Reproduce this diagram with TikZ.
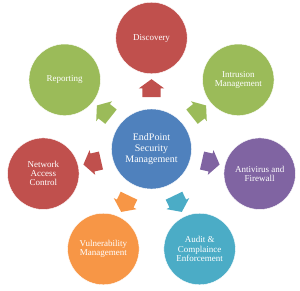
\documentclass[tikz,border=0pt]{standalone}
\usepackage{fontspec}
\setmainfont{Liberation Serif}
\usetikzlibrary{shapes.arrows}
\definecolor{hubblue}{HTML}{4F81BD}
\definecolor{itemred}{HTML}{C0504D}
\definecolor{itemgreen}{HTML}{9BBB59}
\definecolor{itempurple}{HTML}{8064A2}
\definecolor{itemcyan}{HTML}{4BACC6}
\definecolor{itemorange}{HTML}{F79646}
\begin{document}
\begin{tikzpicture}[x=1pt,y=1pt,
  hub/.style={circle,fill=hubblue,draw=white,minimum size=80pt,inner sep=1pt,text=white,align=center,font=\fontsize{10}{11.3}\selectfont},
  item/.style={circle,draw=white,minimum size=71.5pt,inner sep=1pt,text=white,align=center,font=\fontsize{9}{9.2}\selectfont},
  blockarrow/.style={single arrow,inner xsep=0pt,inner ysep=9pt,single arrow head extend=3.5pt,single arrow tip angle=108,minimum height=18pt}]
\useasboundingbox (-151.5,-141) rectangle (148.5,149);
\node[hub] (hub) at (0,0) {EndPoint\\Security\\Management};
% outer ring, clockwise from the top
\foreach \ang/\name/\col/\txt in {90/disc/itemred/Discovery,
    38.57/intr/itemgreen/Intrusion\\Management,
    -12.86/anti/itempurple/Antivirus and\\Firewall,
    -64.29/audit/itemcyan/Audit \&\\Complaince\\Enforcement,
    -115.71/vuln/itemorange/Vulnerability\\Management,
    -167.14/nac/itemred/Network\\Access\\Control,
    141.43/rep/itemgreen/Reporting} {
  \node[item,fill=\col] (\name) at (\ang:111) {\txt};
  \node[blockarrow,fill=\col,rotate=\ang] (arr-\name) at (\ang:57.5) {};
}
\end{tikzpicture}
\end{document}
